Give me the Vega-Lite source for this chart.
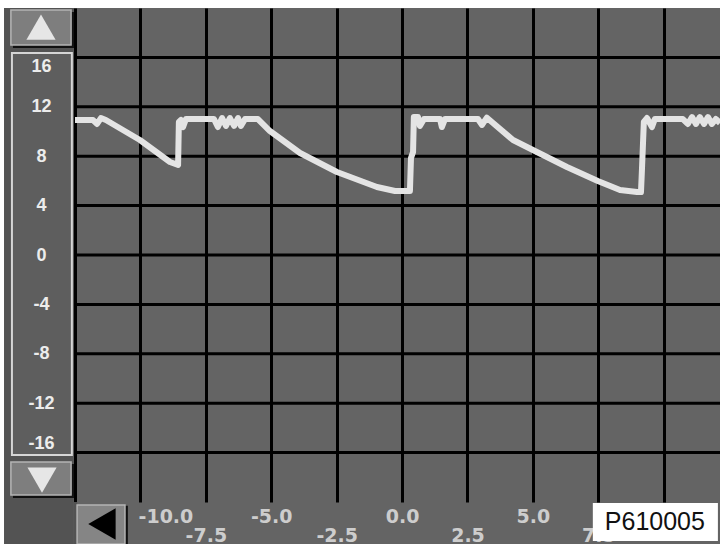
{
  "$schema": "https://vega.github.io/schema/vega-lite/v6.json",
  "width": 645,
  "height": 494,
  "autosize": {"type": "none"},
  "padding": {"left": 75, "top": 8, "right": 0, "bottom": 42},
  "background": "#646464",
  "config": {"view": {"fill": "#646464", "stroke": null}},
  "datasets": {
    "trace": [
      {"t": -12.50, "v": 10.93}, {"t": -11.81, "v": 10.93}, {"t": -11.66, "v": 10.61}, {"t": -11.51, "v": 11.09},
      {"t": -11.32, "v": 10.93}, {"t": -10.02, "v": 9.31}, {"t": -8.87, "v": 7.53}, {"t": -8.56, "v": 7.29},
      {"t": -8.53, "v": 10.77}, {"t": -8.45, "v": 10.93}, {"t": -8.37, "v": 10.36}, {"t": -8.26, "v": 11.01},
      {"t": -7.19, "v": 11.01}, {"t": -7.04, "v": 10.36}, {"t": -6.88, "v": 11.09}, {"t": -6.73, "v": 10.45},
      {"t": -6.58, "v": 11.09}, {"t": -6.42, "v": 10.45}, {"t": -6.27, "v": 11.09}, {"t": -6.16, "v": 10.45},
      {"t": -6.00, "v": 11.01}, {"t": -5.51, "v": 11.01}, {"t": -5.05, "v": 10.04}, {"t": -3.90, "v": 8.26},
      {"t": -2.49, "v": 6.72}, {"t": -0.96, "v": 5.51}, {"t": -0.27, "v": 5.18}, {"t": 0.30, "v": 5.18},
      {"t": 0.34, "v": 7.85}, {"t": 0.42, "v": 8.34}, {"t": 0.45, "v": 11.17}, {"t": 0.61, "v": 11.17},
      {"t": 0.68, "v": 10.45}, {"t": 0.84, "v": 11.01}, {"t": 1.45, "v": 11.01}, {"t": 1.52, "v": 10.36},
      {"t": 1.64, "v": 11.01}, {"t": 2.90, "v": 11.01}, {"t": 3.05, "v": 10.53}, {"t": 3.24, "v": 11.12},
      {"t": 4.24, "v": 9.31}, {"t": 5.00, "v": 8.50}, {"t": 6.30, "v": 7.13}, {"t": 7.48, "v": 5.99},
      {"t": 8.33, "v": 5.26}, {"t": 8.98, "v": 5.10}, {"t": 9.13, "v": 5.10}, {"t": 9.17, "v": 7.05},
      {"t": 9.24, "v": 10.77}, {"t": 9.36, "v": 11.09}, {"t": 9.55, "v": 10.36}, {"t": 9.66, "v": 11.01},
      {"t": 10.73, "v": 11.01}, {"t": 10.92, "v": 10.61}, {"t": 11.08, "v": 11.17}, {"t": 11.23, "v": 10.61},
      {"t": 11.38, "v": 11.17}, {"t": 11.54, "v": 10.61}, {"t": 11.69, "v": 11.17}, {"t": 11.84, "v": 10.61},
      {"t": 11.99, "v": 11.01}, {"t": 12.15, "v": 10.69}
    ],
    "hgrid": [{"g": -16}, {"g": -12}, {"g": -8}, {"g": -4}, {"g": 0}, {"g": 4}, {"g": 8}, {"g": 12}, {"g": 16}],
    "one": [{"k": 1}],
    "tag": [{"label": "P610005"}]
  },
  "layer": [
    {
      "data": {"name": "one"},
      "mark": {"type": "rect", "fill": "#ffffff", "clip": false},
      "encoding": {"x": {"datum": -15.37}, "x2": {"datum": 12.15}, "y": {"datum": 20.0}, "y2": {"datum": 20.7}}
    },
    {
      "data": {"name": "one"},
      "mark": {"type": "rect", "fill": "#ffffff", "clip": false},
      "encoding": {"x": {"datum": -15.37}, "x2": {"datum": -15.21}, "y": {"datum": 20.7}, "y2": {"datum": -23.4}}
    },
    {
      "data": {"name": "one"},
      "mark": {"type": "rect", "fill": "#535353", "clip": false},
      "encoding": {"x": {"datum": -15.21}, "x2": {"datum": -12.55}, "y": {"datum": 20.0}, "y2": {"datum": -23.4}}
    },
    {
      "data": {"name": "one"},
      "mark": {"type": "rect", "fill": "#535353", "clip": false},
      "encoding": {"x": {"datum": -12.55}, "x2": {"datum": -12.42}, "y": {"datum": -20.0}, "y2": {"datum": -23.4}}
    },
    {
      "data": {"name": "one"},
      "mark": {"type": "rect", "fill": "#5e5e5e", "stroke": "#d6d6d6", "strokeWidth": 2, "clip": false},
      "encoding": {"x": {"datum": -14.91}, "x2": {"datum": -12.62}, "y": {"datum": 16.36}, "y2": {"datum": -16.19}}
    },
    {
      "data": {"name": "one"},
      "mark": {"type": "rect", "fill": "#111111", "clip": false},
      "encoding": {"x": {"datum": -14.87}, "x2": {"datum": -12.54}, "y": {"datum": 19.68}, "y2": {"datum": 16.76}}
    },
    {
      "data": {"name": "one"},
      "mark": {"type": "rect", "fill": "#7e7e7e", "stroke": "#b4b4b4", "strokeWidth": 1.5, "clip": false},
      "encoding": {"x": {"datum": -14.95}, "x2": {"datum": -12.65}, "y": {"datum": 19.84}, "y2": {"datum": 17.0}}
    },
    {
      "data": {"name": "one"},
      "mark": {"type": "point", "shape": "triangle-up", "filled": true, "fill": "#e6e6e6", "size": 850, "opacity": 1, "clip": false},
      "encoding": {"x": {"datum": -13.8}, "y": {"datum": 18.46}}
    },
    {
      "data": {"name": "one"},
      "mark": {"type": "rect", "fill": "#111111", "clip": false},
      "encoding": {"x": {"datum": -14.87}, "x2": {"datum": -12.54}, "y": {"datum": -16.92}, "y2": {"datum": -19.68}}
    },
    {
      "data": {"name": "one"},
      "mark": {"type": "rect", "fill": "#7e7e7e", "stroke": "#b4b4b4", "strokeWidth": 1.5, "clip": false},
      "encoding": {"x": {"datum": -14.95}, "x2": {"datum": -12.65}, "y": {"datum": -16.76}, "y2": {"datum": -19.43}}
    },
    {
      "data": {"name": "one"},
      "mark": {"type": "point", "shape": "triangle-down", "filled": true, "fill": "#e6e6e6", "size": 850, "opacity": 1, "clip": false},
      "encoding": {"x": {"datum": -13.76}, "y": {"datum": -18.22}}
    },
    {
      "data": {"name": "hgrid"},
      "mark": {"type": "rule", "color": "#000000", "strokeWidth": 3},
      "encoding": {"y": {"field": "g", "type": "quantitative"}}
    },
    {
      "data": {"name": "trace"},
      "mark": {"type": "line", "color": "#e4e4e4", "strokeWidth": 6, "strokeJoin": "round", "strokeCap": "butt"},
      "encoding": {
        "x": {
          "field": "t", "type": "quantitative",
          "scale": {"domain": [-12.5, 12.15], "nice": false, "zero": false},
          "axis": {
            "values": [-12.5, -10, -7.5, -5, -2.5, 0, 2.5, 5, 7.5, 10],
            "title": null, "zindex": 0,
            "grid": true, "gridColor": "#000000", "gridWidth": 3, "gridOpacity": 1,
            "domain": false, "ticks": false, "tickSize": 0,
            "labelExpr": "datum.value < -11 || datum.value > 9 ? '' : replace(format(datum.value, '.1f'), '\u2212', '-')",
            "labelFont": "DejaVu Sans", "labelFontWeight": "bold", "labelFontSize": 19,
            "labelColor": "#cdcdcd", "labelAlign": "center", "labelBaseline": "top",
            "labelPadding": {"condition": {"test": "datum.value % 5 === 0", "value": 5}, "value": 24},
            "labelOffset": {"condition": {"test": "datum.value === -10", "value": 25}, "value": 0},
            "labelOverlap": false, "labelBound": false, "labelFlush": false
          }
        },
        "y": {
          "field": "v", "type": "quantitative",
          "scale": {"domain": [-20, 20], "nice": false, "zero": false},
          "axis": {
            "values": [-16, -12, -8, -4, 0, 4, 8, 12, 16],
            "title": null, "zindex": 1,
            "grid": false,
            "domain": false, "ticks": false, "tickSize": 0,
            "labelExpr": "replace(datum.label, '\u2212', '-')",
            "labelFont": "Liberation Sans", "labelFontWeight": "bold", "labelFontSize": 18,
            "labelColor": "#ececec", "labelAlign": "center", "labelPadding": 34,
            "labelBaseline": {"condition": [{"test": "datum.value === 16", "value": "top"}, {"test": "datum.value === -16", "value": "bottom"}], "value": "middle"},
            "labelOverlap": false, "labelBound": false, "labelFlush": false
          }
        }
      }
    },
    {
      "data": {"name": "one"},
      "mark": {"type": "rect", "fill": "#111111", "clip": false},
      "encoding": {"x": {"datum": -12.35}, "x2": {"datum": -10.48}, "y": {"datum": -20.3}, "y2": {"datum": -23.4}}
    },
    {
      "data": {"name": "one"},
      "mark": {"type": "rect", "fill": "#858585", "stroke": "#b4b4b4", "strokeWidth": 1.5, "clip": false},
      "encoding": {"x": {"datum": -12.42}, "x2": {"datum": -10.59}, "y": {"datum": -20.24}, "y2": {"datum": -23.4}}
    },
    {
      "data": {"name": "one"},
      "mark": {"type": "point", "shape": "triangle-left", "filled": true, "fill": "#000000", "size": 1000, "opacity": 1, "clip": false},
      "encoding": {"x": {"datum": -11.47}, "y": {"datum": -21.78}}
    },
    {
      "data": {"name": "one"},
      "mark": {"type": "rect", "fill": "#ffffff", "clip": false},
      "encoding": {"x": {"datum": 7.29}, "x2": {"datum": 12.07}, "y": {"datum": -20.08}, "y2": {"datum": -23.16}}
    },
    {
      "data": {"name": "tag"},
      "mark": {"type": "text", "font": "Liberation Sans", "fontSize": 25, "color": "#111111", "align": "center", "baseline": "middle", "clip": false},
      "encoding": {"x": {"datum": 9.66}, "y": {"datum": -21.62}, "text": {"field": "label"}}
    }
  ]
}
